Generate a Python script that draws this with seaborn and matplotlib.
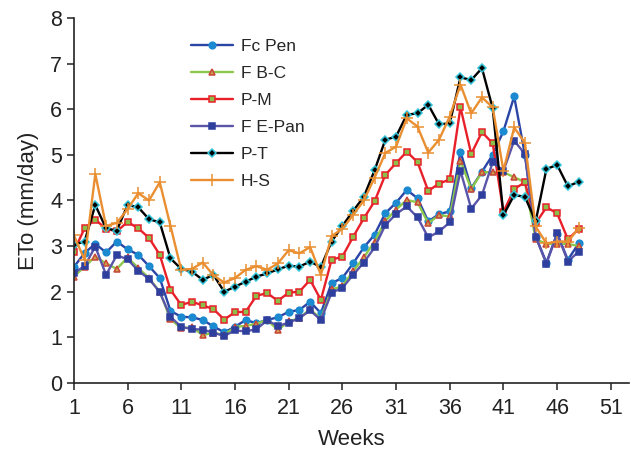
import numpy as np
import pandas as pd
import seaborn as sns
import matplotlib
matplotlib.use("Agg")
import matplotlib.pyplot as plt

weeks = list(range(1, 49))

fc_pen = [2.54, 2.85, 3.05, 2.86, 3.10, 2.93, 2.81, 2.56, 2.30, 1.58, 1.45, 1.44,
          1.38, 1.24, 1.11, 1.23, 1.38, 1.31, 1.38, 1.44, 1.56, 1.60, 1.78, 1.53,
          2.19, 2.30, 2.62, 2.97, 3.25, 3.72, 3.95, 4.23, 4.05, 3.54, 3.70, 3.76,
          5.07, 4.27, 4.63, 5.00, 5.52, 6.28, 5.00, 3.21, 2.64, 3.27, 2.70, 3.06]

f_bc = [2.33, 2.55, 2.77, 2.62, 2.50, 2.75, 2.52, 2.30, 2.00, 1.40, 1.20, 1.22,
        1.05, 1.10, 1.05, 1.23, 1.25, 1.30, 1.38, 1.16, 1.35, 1.42, 1.62, 1.40,
        2.05, 2.12, 2.45, 2.75, 3.10, 3.55, 3.80, 4.01, 3.96, 3.50, 3.68, 3.65,
        4.87, 4.25, 4.62, 4.62, 4.62, 4.51, 4.40, 3.15, 3.05, 3.05, 3.05, 3.00]

p_m = [2.88, 3.39, 3.58, 3.38, 3.32, 3.53, 3.39, 3.18, 2.81, 2.04, 1.71, 1.78,
       1.70, 1.62, 1.39, 1.55, 1.56, 1.91, 1.97, 1.80, 1.98, 2.00, 2.26, 1.82,
       2.70, 2.77, 3.20, 3.61, 3.98, 4.56, 4.82, 5.07, 4.84, 4.21, 4.37, 4.46,
       6.04, 5.02, 5.50, 5.25, 3.75, 4.25, 4.40, 3.50, 3.85, 3.72, 3.15, 3.37]

f_epan = [2.41, 2.56, 2.99, 2.37, 2.80, 2.71, 2.46, 2.28, 1.99, 1.45, 1.23, 1.18,
          1.17, 1.10, 1.03, 1.15, 1.13, 1.18, 1.37, 1.25, 1.32, 1.42, 1.59, 1.38,
          1.98, 2.08, 2.37, 2.64, 2.97, 3.46, 3.70, 3.87, 3.63, 3.19, 3.32, 3.52,
          4.65, 3.82, 4.12, 4.84, 4.65, 5.31, 5.02, 3.21, 2.61, 3.28, 2.66, 2.88]

p_t = [3.03, 3.10, 3.90, 3.39, 3.34, 3.90, 3.85, 3.59, 3.52, 2.73, 2.50, 2.44,
       2.26, 2.37, 2.00, 2.11, 2.22, 2.33, 2.40, 2.49, 2.57, 2.55, 2.66, 2.54,
       3.10, 3.44, 3.77, 4.08, 4.66, 5.33, 5.40, 5.88, 5.91, 6.10, 5.67, 5.69,
       6.70, 6.64, 6.90, 6.02, 3.68, 4.12, 4.08, 3.54, 4.69, 4.78, 4.31, 4.41]

h_s = [3.24, 2.70, 4.58, 3.44, 3.51, 3.81, 4.16, 4.00, 4.40, 3.44, 2.48, 2.50,
       2.64, 2.36, 2.20, 2.30, 2.48, 2.56, 2.48, 2.62, 2.91, 2.84, 2.98, 2.37,
       3.22, 3.38, 3.68, 4.00, 4.50, 5.04, 5.18, 5.80, 5.62, 5.05, 5.33, 5.84,
       6.54, 5.91, 6.26, 6.04, 4.65, 5.60, 5.26, 3.43, 3.06, 3.10, 3.10, 3.39]

series_names = ["Fc Pen", "F B-C", "P-M", "F E-Pan", "P-T", "H-S"]
x_ticks = [1, 6, 11, 16, 21, 26, 31, 36, 41, 46, 51]
y_ticks = [0, 1, 2, 3, 4, 5, 6, 7, 8]

df = pd.DataFrame({"Week": weeks, "Fc Pen": fc_pen, "F B-C": f_bc, "P-M": p_m,
                   "F E-Pan": f_epan, "P-T": p_t, "H-S": h_s})

sns.set_style("white")
plt.rcParams["font.family"] = ["Liberation Sans", "DejaVu Sans"]

styles = {
    "Fc Pen": dict(color="#2a45a6", marker="o", markersize=4.8,
                   markerfacecolor="#1b8ad0", markeredgecolor="#1b8ad0"),
    "F B-C": dict(color="#8cc84b", marker="^", markersize=4.8,
                  markerfacecolor="#c9a24a", markeredgecolor="#c8453a"),
    "P-M": dict(color="#e8202a", marker="s", markersize=4.3,
                markerfacecolor="#8bbf4a", markeredgecolor="#e8202a"),
    "F E-Pan": dict(color="#5a55a8", marker="s", markersize=4.8,
                    markerfacecolor="#2e3f9e", markeredgecolor="#2e3f9e"),
    "P-T": dict(color="#000000", marker="D", markersize=4.0,
                markerfacecolor="#000000", markeredgecolor="#33c4d8"),
    "H-S": dict(color="#ea8f31", marker="+", markersize=8,
                markerfacecolor="#ea8f31", markeredgecolor="#ea8f31"),
}

fig = plt.figure(figsize=(6.31, 4.5), dpi=100)
ax = fig.add_axes([0.117, 0.149, 0.88, 0.811])

for name in series_names:
    st = styles[name]
    sns.lineplot(data=df, x="Week", y=name, ax=ax, label=name,
                 linewidth=1.7, markeredgewidth=1.1, **st)

ax.set_xlim(1, 52.7)
ax.set_ylim(0, 8)
ax.set_xticks(x_ticks)
ax.set_yticks(y_ticks)
ax.tick_params(axis="both", labelsize=15.5, colors="#222222", direction="out",
               length=5, width=1.1, bottom=True, left=True)
ax.tick_params(axis="x", pad=6)
for side in ["top", "right"]:
    ax.spines[side].set_visible(False)
for side in ["left", "bottom"]:
    ax.spines[side].set_color("#222222")
    ax.spines[side].set_linewidth(1.2)

ax.set_xlabel("Weeks", fontsize=16, color="#222222", labelpad=7)
ax.set_ylabel("ETo (mm/day)", fontsize=16, color="#222222", labelpad=8)

ax.legend(loc="upper left", bbox_to_anchor=(0.183, 0.985), frameon=False,
          fontsize=12.5, handlelength=2.4, labelspacing=0.68, handletextpad=0.45)

fig.savefig("out.png", dpi=100)
